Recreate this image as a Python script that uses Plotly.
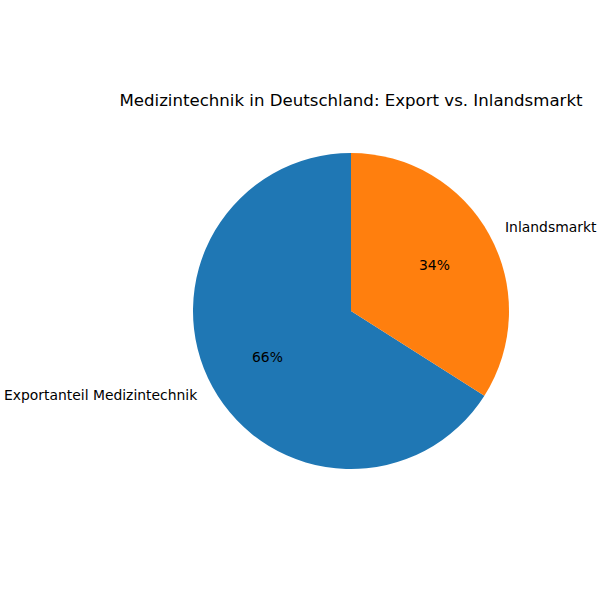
import math
import plotly.graph_objects as go

labels = ["Exportanteil Medizintechnik", "Inlandsmarkt"]
values = [66, 34]
colors = ["#1f77b4", "#ff7f0e"]
title = "Medizintechnik in Deutschland: Export vs. Inlandsmarkt"

W, H = 600, 600
cx, cy, r = 351, 311, 158  # pie centre and radius in pixels
font = "DejaVu Sans"

total = sum(values)
first_span = 360.0 * values[0] / total

fig = go.Figure()
fig.add_trace(go.Pie(
    labels=labels, values=values, sort=False, direction="clockwise",
    rotation=360.0 - first_span, marker=dict(colors=colors, line=dict(width=0)),
    textinfo="none", hoverinfo="label+percent", showlegend=False,
    domain=dict(x=[(cx - r) / W, (cx + r) / W], y=[1 - (cy + r) / H, 1 - (cy - r) / H]),
))

start = 90.0
annotations = []
for lab, v in zip(labels, values):
    span = 360.0 * v / total
    mid = math.radians(start + span / 2)
    start += span
    c, s = math.cos(mid), math.sin(mid)
    annotations.append(dict(
        x=(cx + 0.6 * r * c) / W, y=1 - (cy - 0.6 * r * s) / H, xref="paper", yref="paper",
        text=f"{100 * v / total:.0f}%", showarrow=False, xanchor="center", yanchor="middle",
        font=dict(family=font, size=13.9, color="black")))
    annotations.append(dict(
        x=(cx + 1.1 * r * c) / W, y=1 - (cy - 1.1 * r * s) / H, xref="paper", yref="paper",
        text=lab, showarrow=False, xanchor="left" if c > 0 else "right", yanchor="middle",
        font=dict(family=font, size=13.9, color="black")))

fig.update_layout(
    width=W, height=H, margin=dict(l=0, r=0, t=0, b=0),
    paper_bgcolor="white", plot_bgcolor="white",
    title=dict(text=title, x=cx / W, y=1 - 100 / H, xanchor="center", yanchor="middle",
               font=dict(family=font, size=16.6, color="black")),
    annotations=annotations,
)
fig.write_html("out.html", config={"displayModeBar": False},
               post_script="document.body.style.margin='0';document.body.style.overflow='hidden';")
